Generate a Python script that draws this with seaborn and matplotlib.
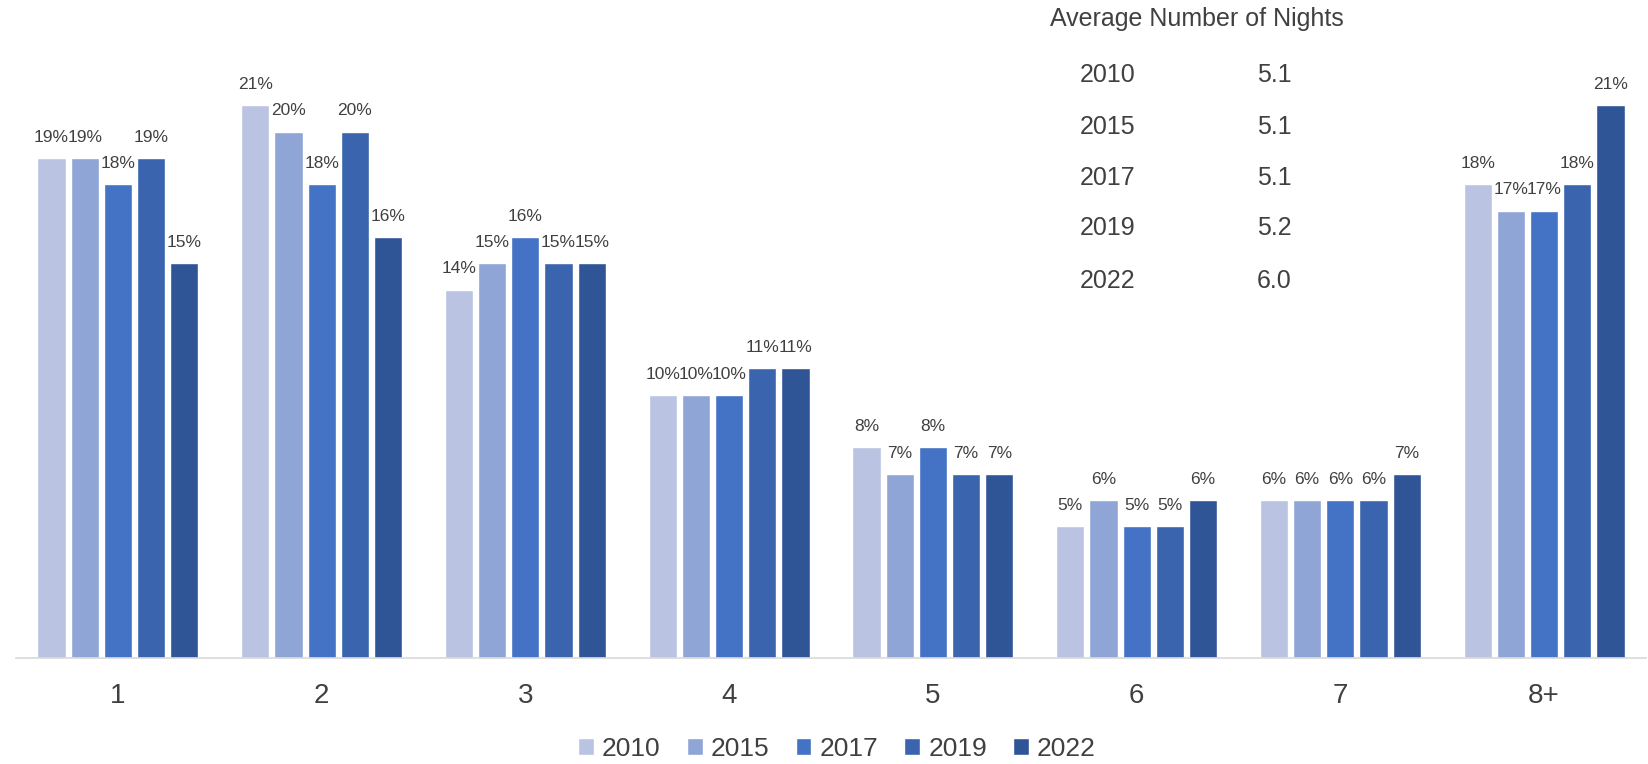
import pandas as pd
import matplotlib
matplotlib.use("Agg")
from matplotlib import pyplot as plt
import seaborn as sns

# chart data
nights = ['1', '2', '3', '4', '5', '6', '7', '8+']
years = ['2010', '2015', '2017', '2019', '2022']
share_2010 = [19, 21, 14, 10, 8, 5, 6, 18]
share_2015 = [19, 20, 15, 10, 7, 6, 6, 17]
share_2017 = [18, 18, 16, 10, 8, 5, 6, 17]
share_2019 = [19, 20, 15, 11, 7, 5, 6, 18]
share_2022 = [15, 16, 15, 11, 7, 6, 7, 21]
avg_nights = ['5.1', '5.1', '5.1', '5.2', '6.0']

colors = ['#BAC4E2', '#8FA5D6', '#4472C4', '#3A64AE', '#2F5597']
text_col = '#404040'

rows = []
for yr, vals in zip(years, [share_2010, share_2015, share_2017, share_2019, share_2022]):
    for n, v in zip(nights, vals):
        rows.append({'Nights': n, 'Year': yr, 'Share': v})
df = pd.DataFrame(rows)

sns.set_style('white')
plt.rcParams['font.family'] = ['Liberation Sans', 'DejaVu Sans']

fig = plt.figure(figsize=(16.49, 7.64), dpi=100)
ax = fig.add_axes([16 / 1649, 106 / 764, 1630 / 1649, 658 / 764])

sns.barplot(data=df, x='Nights', y='Share', hue='Year', palette=colors,
            saturation=1, width=0.815, gap=0.15, ax=ax, legend=True)

for cont in ax.containers:
    ax.bar_label(cont, labels=[f'{int(b.get_height())}%' for b in cont],
                 padding=9.5, fontsize=12.5, color=text_col)

ax.set_ylim(0, 25)
ax.set_xlim(-0.5, 7.5)
ax.set_xlabel('')
ax.set_ylabel('')
ax.set_yticks([])
ax.tick_params(axis='x', labelsize=20, colors=text_col, length=0, pad=18)
for s in ['top', 'left', 'right']:
    ax.spines[s].set_visible(False)
ax.spines['bottom'].set_color('#D9D9D9')
ax.spines['bottom'].set_linewidth(1.2)

ax.legend(loc='center', bbox_to_anchor=(837 / 1649, 15 / 764),
          bbox_transform=fig.transFigure, ncol=5, frameon=False,
          fontsize=19, handlelength=0.6, handleheight=0.6,
          handletextpad=0.3, columnspacing=1.0, labelcolor=text_col)

# table of average nights
fig.text(1197 / 1649, 1 - 19 / 764, 'Average Number of Nights', ha='center', va='center',
         fontsize=18, color=text_col)
row_y = [75, 127, 178, 228, 281]
for yr, val, y in zip(years, avg_nights, row_y):
    fig.text(1080 / 1649, 1 - y / 764, yr, ha='left', va='center', fontsize=18, color=text_col)
    fig.text(1257 / 1649, 1 - y / 764, val, ha='left', va='center', fontsize=18, color=text_col)

fig.savefig('out.png', dpi=100)
